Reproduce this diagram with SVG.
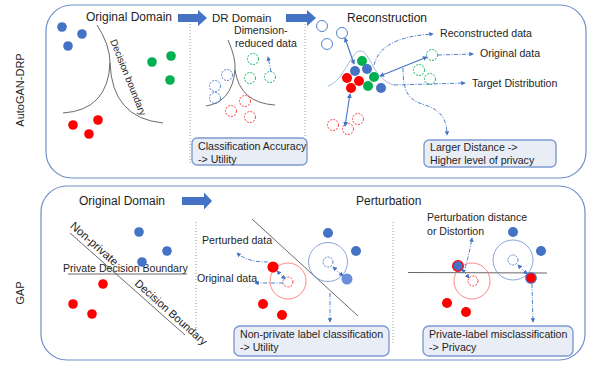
<svg xmlns="http://www.w3.org/2000/svg" width="598" height="377" viewBox="0 0 598 377">
<defs>
<style>
text{font-family:"Liberation Sans",Arial,sans-serif;fill:#1e1e1e}
.t12{font-size:12px}
.lab{font-size:10.6px}
.side{font-size:11px}
.panel{fill:none;stroke:#6f8fc9;stroke-width:1.2}
.box{fill:#e9edf6;stroke:#7f9bd0;stroke-width:1.4}
.div{stroke:#8a8a8a;stroke-width:0.8;stroke-dasharray:1 2}
.bd{fill:#4472C4}
.rd{fill:#FF0000}
.gd{fill:#00B050}
.hb{fill:none;stroke:#4472C4;stroke-width:0.9}
.hbd{fill:none;stroke:#4472C4;stroke-width:0.9;stroke-dasharray:2 1.2}
.hrd{fill:none;stroke:#FF3030;stroke-width:0.9;stroke-dasharray:2 1.2}
.hgd{fill:none;stroke:#00B050;stroke-width:0.9;stroke-dasharray:2 1.2}
.bigr{fill:none;stroke:#ff6b6b;stroke-width:0.8}
.bigb{fill:none;stroke:#6f8fc9;stroke-width:0.8}
.dd{fill:none;stroke:#4f7fd0;stroke-width:1;stroke-dasharray:4 1.5 1 1.5}
.sa{fill:none;stroke:#4472C4;stroke-width:1.1}
.bnd{fill:none;stroke:#444;stroke-width:0.8}
.blk{fill:#4472C4}
</style>
<marker id="ah" viewBox="0 0 6 6" refX="5" refY="3" markerWidth="4.5" markerHeight="4.5" orient="auto-start-reverse"><path d="M0,0 L6,3 L0,6 z" fill="#4472C4"/></marker>
</defs>
<rect width="598" height="377" fill="#ffffff"/>

<!-- panels -->
<g id="panel-autogan">
<rect class="panel" x="46" y="5" width="540" height="173" rx="26"/>
<text class="side" transform="translate(24,90) rotate(-90)" text-anchor="middle">AutoGAN-DRP</text>
</g>
<g id="panel-gap">
<rect class="panel" x="41" y="186" width="544" height="174" rx="26"/>
<text class="side" transform="translate(24,293) rotate(-90)" text-anchor="middle">GAP</text>
</g>

<!-- top titles -->
<g id="top-original-domain">
<text class="t12" x="86" y="20.5">Original Domain</text>
</g>
<g id="top-arrow1"><polygon class="blk" points="178,14 198,14 198,10 207,18 198,26 198,22 178,22"/></g>
<g id="top-dr-domain"><text class="t12" x="212" y="22" style="font-size:11.5px">DR Domain</text></g>
<g id="top-arrow2"><polygon class="blk" points="286,14 307,14 307,10 316,18 307,26 307,22 286,22"/></g>
<g id="top-reconstruction"><text class="t12" x="347" y="21.5">Reconstruction</text></g>

<line class="div" x1="190" y1="24" x2="190" y2="163"/>
<line class="div" x1="305" y1="24" x2="305" y2="138"/>

<!-- top-left original domain -->
<g id="top-left-data">
<circle class="bd" cx="62" cy="27" r="4.8"/>
<circle class="bd" cx="82" cy="34" r="4.8"/>
<circle class="bd" cx="68" cy="46" r="4.8"/>
<circle class="gd" cx="152" cy="62" r="4.8"/>
<circle class="gd" cx="171" cy="56" r="4.8"/>
<circle class="gd" cx="170" cy="80" r="4.8"/>
<circle class="rd" cx="73" cy="125" r="4.8"/>
<circle class="rd" cx="98" cy="120" r="4.8"/>
<circle class="rd" cx="89" cy="134" r="4.8"/>
<path class="bnd" d="M97,25 Q110,45 110,63 Q108,110 63,113"/>
<path class="bnd" d="M110,63 Q112,118 163,123"/>
<text transform="translate(110,41) rotate(68)" style="font-size:9.8px">Decision boundary</text>
</g>

<!-- top-middle DR domain -->
<g id="dr-data">
<path class="bnd" d="M228,40 Q236,58 235,70 Q232,102 206,106"/>
<path class="bnd" d="M235,70 Q240,103 275,105"/>
<circle class="hbd" cx="227" cy="75" r="5.5"/>
<circle class="hbd" cx="215" cy="86" r="5.5"/>
<circle class="hbd" cx="215" cy="98" r="5.5"/>
<circle class="hgd" cx="253" cy="59" r="5.5"/>
<circle class="hgd" cx="250" cy="78" r="5.5"/>
<circle class="hgd" cx="270" cy="77" r="5.5"/>
<circle class="hrd" cx="245" cy="101" r="5.5"/>
<circle class="hrd" cx="231" cy="111" r="5.5"/>
<circle class="hrd" cx="250" cy="117" r="5.5"/>
<text class="lab" x="234" y="34">Dimension-</text>
<text class="lab" x="235" y="47">reduced data</text>
</g>
<g id="box-classification">
<rect class="box" x="192" y="138" width="115" height="27" rx="5"/>
<text class="lab" x="198" y="149.5">Classification Accuracy</text>
<text class="lab" x="198" y="162.5">-&gt;  Utility</text>
</g>

<!-- top-right reconstruction -->
<g id="recon-data">
<path d="M328,86 C345,80 350,52 360,51 C368,50 372,70 382,78 C386,82 390,84 394,85" fill="none" stroke="#8ea9db" stroke-width="0.8"/>
<circle class="hb" cx="322" cy="26" r="5.5"/>
<circle class="hb" cx="342" cy="33" r="5.5"/>
<circle class="hb" cx="327" cy="44" r="5.5"/>
<circle class="hgd" cx="432" cy="55" r="5.5"/>
<circle class="hgd" cx="419" cy="70" r="5.5"/>
<circle class="hgd" cx="430" cy="79" r="5.5"/>
<circle class="hrd" cx="333" cy="125" r="5.5"/>
<circle class="hrd" cx="348" cy="129" r="5.5"/>
<circle class="hrd" cx="358" cy="119" r="5.5"/>
<circle class="gd" cx="362" cy="61" r="5"/>
<circle class="bd" cx="355" cy="71" r="5"/>
<circle class="bd" cx="367" cy="69" r="5"/>
<circle class="gd" cx="374" cy="77" r="5"/>
<circle class="rd" cx="347" cy="78" r="5"/>
<circle class="rd" cx="359" cy="81" r="5"/>
<circle class="rd" cx="351" cy="88" r="5"/>
<circle class="gd" cx="368" cy="86" r="5"/>
<circle class="bd" cx="381" cy="88" r="5"/>
<text class="lab" x="440" y="37.3">Reconstructed data</text>
<text class="lab" x="480" y="56.5">Original data</text>
<text class="lab" x="472" y="86.5">Target Distribution</text>
</g>
<g id="box-larger-distance">
<rect class="box" x="424" y="140" width="132" height="27" rx="5"/>
<text class="lab" x="430" y="150.5">Larger Distance -&gt;</text>
<text class="lab" x="430" y="163.5">Higher level of privacy</text>
</g>

<!-- bottom titles -->
<g id="bot-original-domain"><text class="t12" x="79" y="205">Original Domain</text></g>
<g id="bot-arrow"><polygon class="blk" points="182,197 204,197 204,192.5 212,201 204,209.5 204,205 182,205"/></g>
<g id="bot-perturbation"><text class="t12" x="356" y="204.5">Perturbation</text></g>

<line class="div" x1="196" y1="222" x2="196" y2="333"/>
<line class="div" x1="393" y1="222" x2="393" y2="343"/>

<!-- bottom-left -->
<g id="gap-original">
<line class="bnd" x1="70" y1="233" x2="185" y2="335"/>
<line class="bnd" x1="68" y1="274" x2="187" y2="274"/>
<text transform="translate(69.5,227) rotate(41.6)" style="font-size:11.5px">Non-private</text>
<text transform="translate(134,284.5) rotate(41.6)" style="font-size:11px">Decision Boundary</text>
<text class="lab" x="63" y="272">Private Decision Boundary</text>
<circle class="bd" cx="139" cy="232" r="4.8"/>
<circle class="bd" cx="167" cy="251" r="4.8"/>
<circle class="bd" cx="142" cy="262" r="4.8"/>
<circle class="rd" cx="103" cy="284" r="4.8"/>
<circle class="rd" cx="73" cy="304" r="4.8"/>
<circle class="rd" cx="92" cy="314" r="4.8"/>
</g>

<!-- bottom-middle -->
<g id="gap-nonprivate">
<line class="bnd" x1="252" y1="219" x2="358" y2="316"/>
<circle class="bigr" cx="288" cy="281" r="18"/>
<circle class="hrd" cx="288" cy="282" r="5"/>
<circle class="bigb" cx="328" cy="262" r="19.5"/>
<circle class="hbd" cx="328" cy="262" r="5"/>
<circle class="rd" cx="273" cy="267" r="5.6"/>
<circle class="rd" cx="263" cy="304" r="5"/>
<circle class="rd" cx="282" cy="315" r="5"/>
<circle class="bd" cx="328" cy="233" r="5"/>
<circle class="bd" cx="356" cy="251" r="5"/>
<circle cx="347" cy="279" r="5.5" fill="#6a8fd8"/>
<text class="lab" x="202" y="244">Perturbed data</text>
<text class="lab" x="197" y="282">Original data</text>
</g>
<g id="box-nonprivate">
<rect class="box" x="234" y="326" width="155" height="30" rx="6"/>
<text class="lab" x="240" y="337.5">Non-private label classification</text>
<text class="lab" x="240" y="350.5">-&gt; Utility</text>
</g>

<!-- bottom-right -->
<g id="gap-private">
<line x1="408" y1="272.5" x2="547" y2="273" stroke="#555" stroke-width="0.9"/>
<circle class="bigr" cx="472" cy="281" r="18"/>
<circle class="hrd" cx="473" cy="281" r="5"/>
<circle class="bigb" cx="513" cy="260" r="20"/>
<circle class="hbd" cx="513" cy="260" r="5"/>
<circle class="bd" cx="513" cy="232" r="5"/>
<circle class="bd" cx="541" cy="251" r="5"/>
<circle class="rd" cx="447" cy="303" r="5"/>
<circle class="rd" cx="466" cy="312" r="5"/>
<circle cx="458" cy="266" r="5.3" fill="#4472C4" stroke="#FF0000" stroke-width="1.3"/>
<circle cx="531" cy="278" r="5.3" fill="#FF0000" stroke="#4472C4" stroke-width="1.1"/>
<text class="lab" x="427" y="220.7">Perturbation distance</text>
<text class="lab" x="427" y="235">or Distortion</text>
</g>
<g id="box-private">
<rect class="box" x="423" y="326" width="150" height="30" rx="6"/>
<text class="lab" x="429" y="337.5">Private-label misclassification</text>
<text class="lab" x="429" y="350.5">-&gt; Privacy</text>
</g>

<!-- connectors -->
<g id="connectors">
<path class="dd" d="M271,72 C270,66 269,62 268,57" marker-end="url(#ah)"/>
<path class="sa" d="M345,38 L354,64" marker-start="url(#ah)" marker-end="url(#ah)"/>
<path class="sa" d="M380,76 L427,57" marker-start="url(#ah)" marker-end="url(#ah)"/>
<path class="sa" d="M350,94 L345,126" marker-start="url(#ah)" marker-end="url(#ah)"/>
<path class="dd" d="M374,65 C378,48 395,36 433,34" marker-end="url(#ah)"/>
<path class="dd" d="M438,55 L473,54" marker-end="url(#ah)"/>
<path class="dd" d="M394,85 L465,83" marker-end="url(#ah)"/>
<path class="dd" d="M403,68 C403,92 408,100 425,105 C440,110 447,118 447,135" marker-end="url(#ah)"/>
<path class="dd" d="M268,262 C255,262 245,260 237,253" marker-end="url(#ah)"/>
<path class="dd" d="M283,283 L255,283" marker-end="url(#ah)"/>
<path class="dd" d="M277,271 L285,279" marker-start="url(#ah)" marker-end="url(#ah)"/>
<path class="dd" d="M333,267 L343,276" marker-start="url(#ah)" marker-end="url(#ah)"/>
<path class="dd" d="M330,293 L330,322" marker-end="url(#ah)"/>
<path class="dd" d="M462,269 L469,278" marker-start="url(#ah)" marker-end="url(#ah)"/>
<path class="dd" d="M518,265 L527,274" marker-start="url(#ah)" marker-end="url(#ah)"/>
<path class="dd" d="M465,268 C468,258 470,250 472,238" marker-end="url(#ah)"/>
<path class="dd" d="M532,284 L533,322" marker-end="url(#ah)"/>
</g>
</svg>
